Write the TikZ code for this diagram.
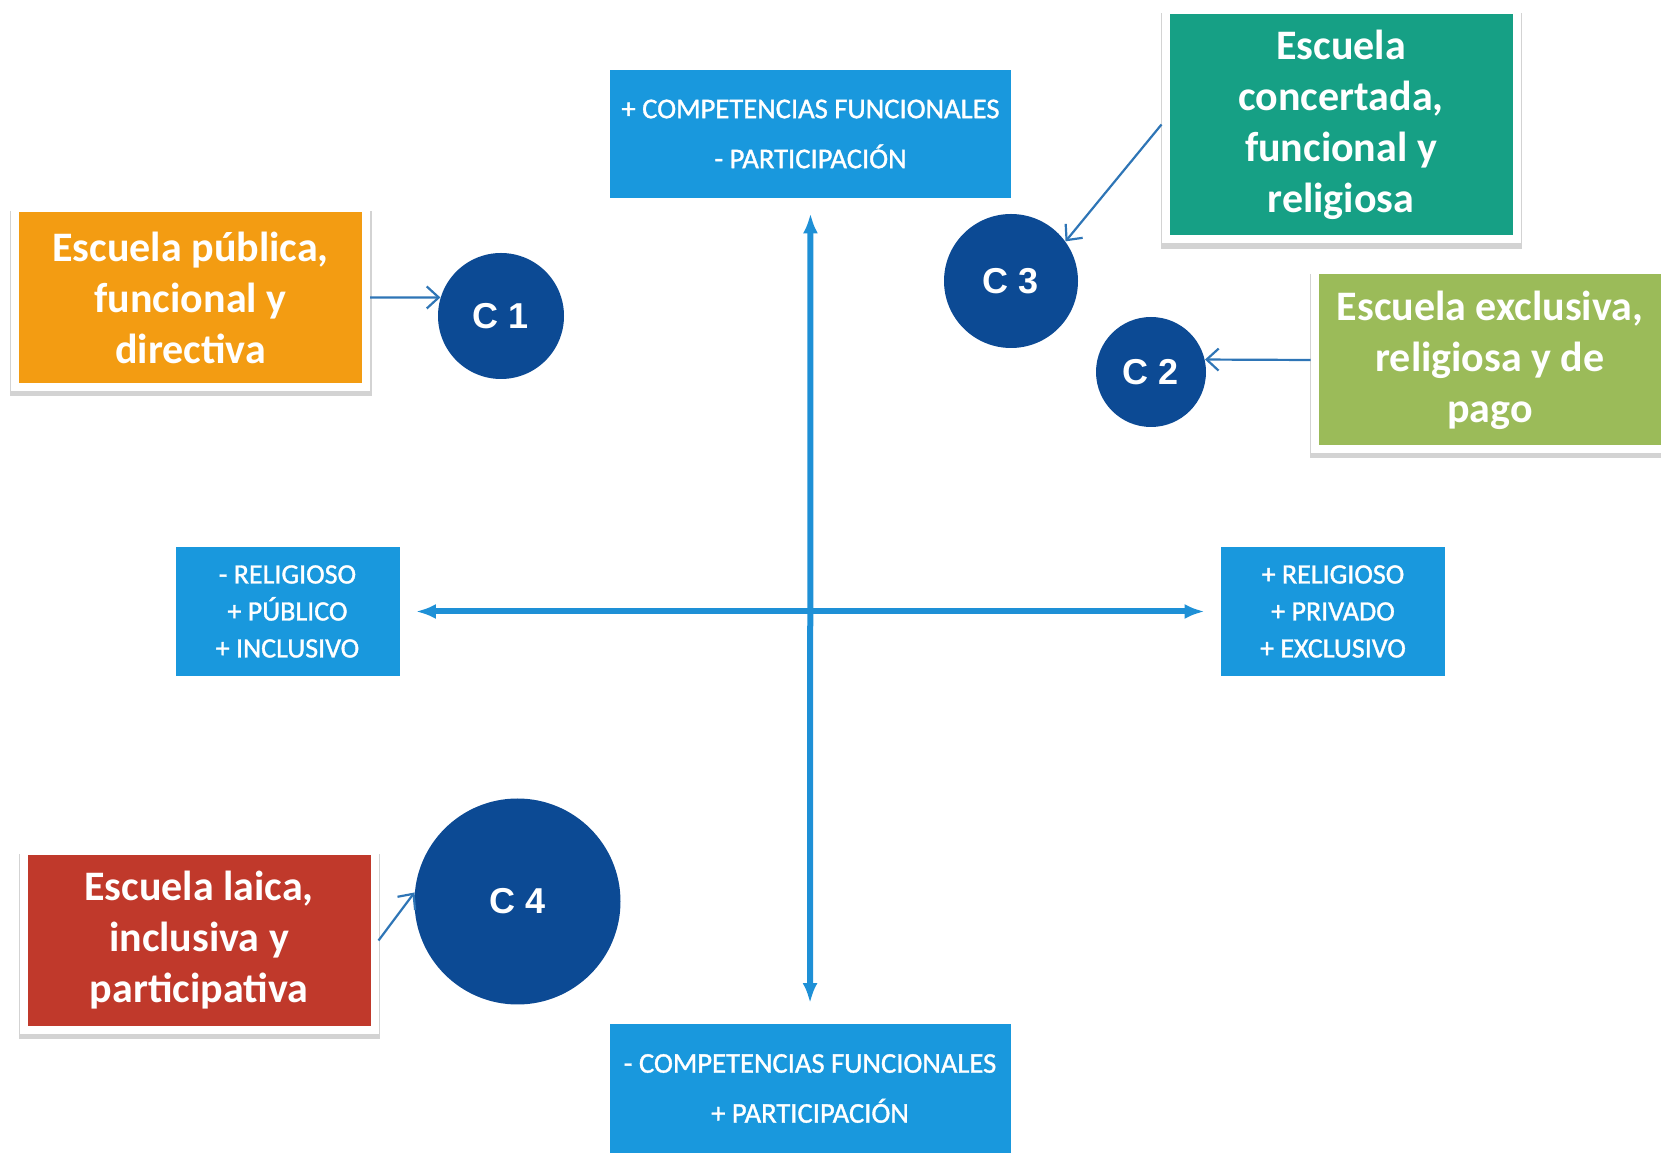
\documentclass[tikz,border=0pt]{standalone}
\usepackage{fontspec}
\setmainfont{Carlito}
\newfontfamily\cfont{Liberation Sans}
\newfontfamily\axfont{Carlito}[FakeBold=1.2]
\usetikzlibrary{arrows.meta,shadows}
\definecolor{ax_blue}{RGB}{25,152,221}
\definecolor{ln_blue}{RGB}{30,144,214}
\definecolor{c_blue}{RGB}{12,74,148}
\definecolor{ar_blue}{RGB}{46,117,182}
\definecolor{sc_orange}{RGB}{243,156,18}
\definecolor{sc_teal}{RGB}{22,160,133}
\definecolor{sc_green}{RGB}{155,187,89}
\definecolor{sc_red}{RGB}{192,57,43}
\tikzstyle{ax}=[rectangle,fill=ax_blue,text=white,inner sep=0pt,align=center,
  font=\axfont\fontsize{14}{18.5}\selectfont]
\tikzstyle{axw}=[ax,minimum width=200.5pt,minimum height=64pt,
  font=\axfont\fontsize{14.3}{25}\selectfont]
\tikzstyle{axs}=[ax,minimum width=112pt,minimum height=64.5pt]
\tikzstyle{cn}=[circle,fill=c_blue,text=white,inner sep=0pt,
  font=\cfont\bfseries\fontsize{18}{20}\selectfont]
\tikzstyle{lb}=[rectangle,draw=white,line width=4pt,text=white,inner sep=0pt,
  align=center,minimum width=175.5pt,minimum height=89.5pt,
  font=\bfseries\fontsize{21}{25.5}\selectfont,
  drop shadow={shadow xshift=0.3pt,shadow yshift=-3pt,shadow scale=1.03,opacity=0.35}]
\tikzstyle{lo}=[lb,fill=sc_orange]
\tikzstyle{lt}=[lb,fill=sc_teal,minimum height=114.5pt]
\tikzstyle{lg}=[lb,fill=sc_green]
\tikzstyle{lr}=[lb,fill=sc_red]
\tikzstyle{axis}=[ln_blue,line width=3pt,<->,>={Latex[length=10pt,width=7.5pt]}]
\tikzstyle{conn}=[ar_blue,line width=1.1pt,-{Straight Barb[length=6pt,width=11pt]}]
\begin{document}
\begin{tikzpicture}[x=0.5pt, y=-0.5pt]
    \useasboundingbox (0,0) rectangle (1661,1159);
    \node [style=axw] (0) at (810.5, 134) {+ COMPETENCIAS FUNCIONALES\\- PARTICIPACIÓN};
    \node [style=axw] (1) at (810, 1088.5) {- COMPETENCIAS FUNCIONALES\\+ PARTICIPACIÓN};
    \node [style=axs] (2) at (287.5, 611.5) {- RELIGIOSO\\+ PÚBLICO\\+ INCLUSIVO};
    \node [style=axs] (3) at (1333, 611.5) {+ RELIGIOSO\\+ PRIVADO\\+ EXCLUSIVO};
    \node [style=cn, minimum size=63pt] (4) at (501, 316) {C 1};
    \node [style=cn, minimum size=67pt] (5) at (1011, 281) {C 3};
    \node [style=cn, minimum size=55pt] (6) at (1151, 372) {C 2};
    \node [style=cn, minimum size=103pt] (7) at (517.5, 901.5) {C 4};
    \node [style=lo] (8) at (190.5, 297.5) {Escuela pública,\\funcional y\\directiva};
    \node [style=lt] (9) at (1341, 124.5) {Escuela\\concertada,\\funcional y\\religiosa};
    \node [style=lg] (10) at (1490, 360) {Escuela exclusiva,\\religiosa y de\\pago};
    \node [style=lr] (11) at (199, 940.5) {Escuela laica,\\inclusiva y\\participativa};
    \draw [style=axis, shorten <=7.5pt, shorten >=10.5pt] (0) to (1);
    \draw [style=axis, shorten <=8pt, shorten >=8pt] (2) to (3);
    \draw [style=conn] (8.east) to (4.163);
    \draw [style=conn] (9.west) to (5.36);
    \draw [style=conn] (10.west) to (6.13);
    \draw [style=conn] (11.east) to (7.175);
\end{tikzpicture}
\end{document}
